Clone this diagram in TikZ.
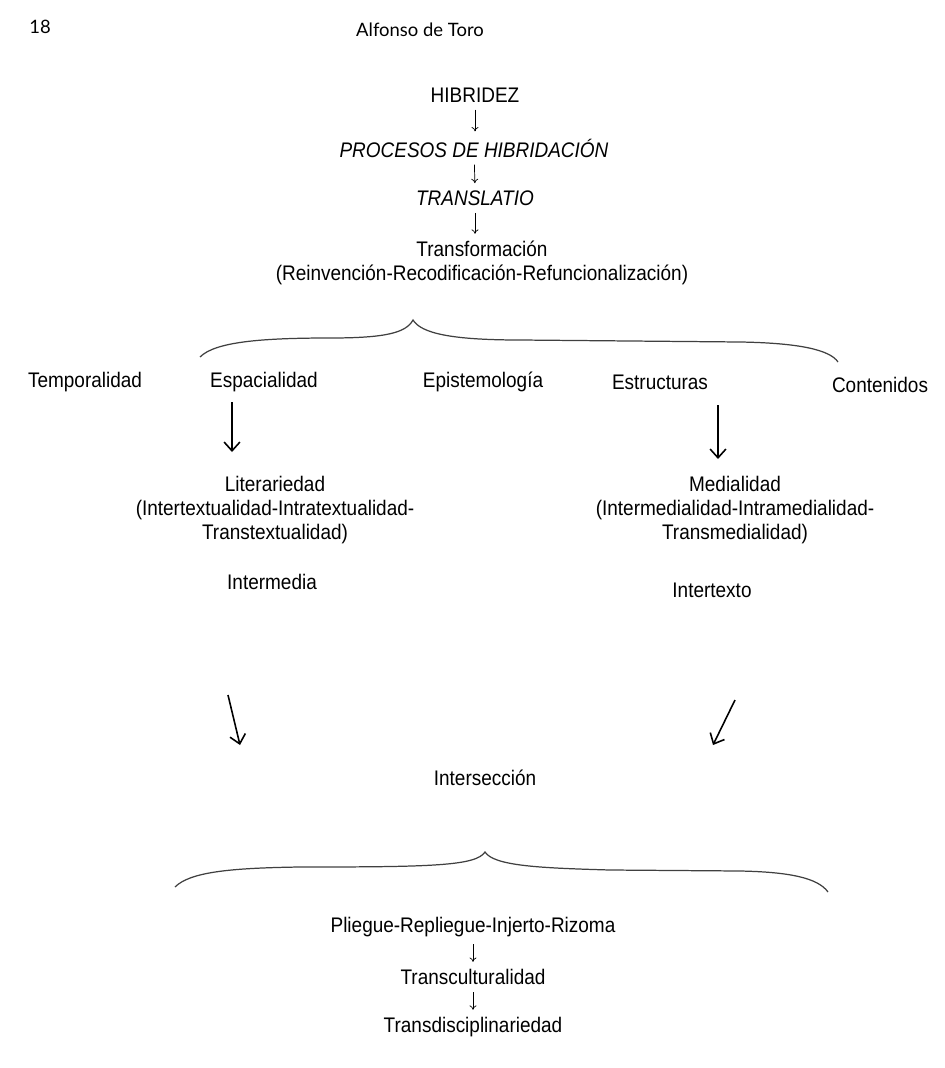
\documentclass[tikz,border=0pt]{standalone}
\usepackage{fontspec}
\setmainfont{Liberation Sans}[FakeStretch=0.9]
\newfontfamily\headfont{Lato}
\usetikzlibrary{arrows.meta, positioning, calc}

\begin{document}
\begin{tikzpicture}[
  x=0.02cm, y=-0.02cm,
  label/.style={inner sep=1pt, font=\fontsize{12}{13.5}\selectfont, align=center},
  head/.style={inner sep=1pt, font=\headfont\fontsize{10.5}{12}\selectfont},
  flow/.style={-{To[length=2.5pt, width=4pt]}, line width=0.4pt, shorten <=3pt, shorten >=3pt},
  bigarrow/.style={-{Straight Barb[length=5pt, width=9pt]}, line width=0.9pt},
  brace/.style={line width=0.7pt, draw=black!75}
]
  \useasboundingbox (0,0) rectangle (945,1068);

  % header
  \node[head] (page) at (40,27) {18};
  \node[head] (author) at (420,30) {Alfonso de Toro};

  % central chain
  \node[label] (hib) at (475,95) {HIBRIDEZ};
  \node[label] (proc) at (474,148) {\itshape PROCESOS DE HIBRIDACIÓN};
  \node[label] (trans) at (475,198) {\itshape TRANSLATIO};
  \node[label] (tform) at (482,263) {Transformación\\(Reinvención-Recodificación-Refuncionalización)};

  \draw[flow] (hib) -- (hib |- proc.north);
  \draw[flow] (proc) -- (hib |- trans.north);
  \draw[flow] (trans) -- (trans |- tform.north);

  % upper brace
  \draw[brace] (200,357) .. controls (215,342) and (260,338) .. (330,338)
    .. controls (385,338) and (406,333) .. (413,320)
    .. controls (421,333) and (450,340) .. (520,340)
    -- (740,342) .. controls (800,343) and (830,350) .. (838,362);

  % dimensions
  \node[label] (temp) at (85,382) {Temporalidad};
  \node[label] (esp) at (264,382) {Espacialidad};
  \node[label] (epi) at (483,382) {Epistemología};
  \node[label] (est) at (660,382) {Estructuras};
  \node[label] (cont) at (880,385) {Contenidos};

  % literariedad / medialidad
  \node[label] (lit) at (275,510) {Literariedad\\(Intertextualidad-Intratextualidad-\\Transtextualidad)};
  \node[label] (med) at (735,510) {Medialidad\\(Intermedialidad-Intramedialidad-\\Transmedialidad)};

  \coordinate (a1) at (232,402);
  \coordinate (a1e) at (232,452);
  \coordinate (a2) at (718,405);
  \coordinate (a2e) at (718,459);
  \draw[bigarrow] (a1) -- (a1e);
  \draw[bigarrow] (a2) -- (a2e);

  \node[label] (imed) at (272,582) {Intermedia};
  \node[label] (itex) at (712,590) {Intertexto};

  \coordinate (d1) at (228,695);
  \coordinate (d1e) at (240,745);
  \coordinate (d2) at (735,700);
  \coordinate (d2e) at (713,745);
  \draw[bigarrow] (d1) -- (d1e);
  \draw[bigarrow] (d2) -- (d2e);

  \node[label] (inter) at (485,778) {Intersección};

  % lower brace
  \draw[brace] (175,887) .. controls (190,872) and (230,868) .. (300,867)
    .. controls (430,867) and (476,866) .. (485,852)
    .. controls (494,866) and (540,868) .. (610,870)
    -- (740,871) .. controls (790,872) and (818,878) .. (828,892);

  % bottom chain
  \node[label] (pli) at (473,927) {Pliegue-Repliegue-Injerto-Rizoma};
  \node[label] (tcul) at (473,977) {Transculturalidad};
  \node[label] (tdis) at (473,1027) {Transdisciplinariedad};

  \draw[flow] (pli) -- (tcul);
  \draw[flow] (tcul) -- (tdis);
\end{tikzpicture}
\end{document}
